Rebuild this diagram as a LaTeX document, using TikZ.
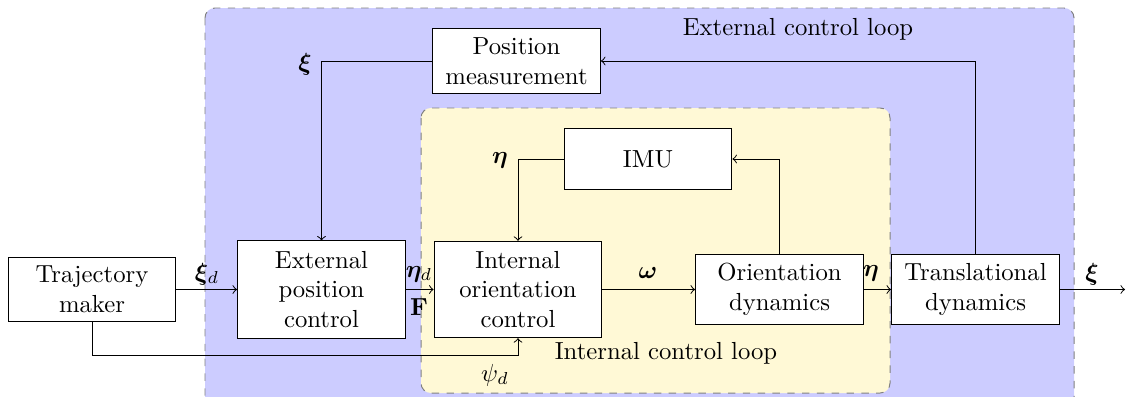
\documentclass[tikz,border=0pt]{standalone}
\usepackage{amsmath,bm}
\definecolor{outerfill}{RGB}{204,204,255}
\definecolor{innerfill}{RGB}{255,249,214}
\tikzset{
  blockbox/.style={draw, fill=white, align=center, inner sep=1pt, minimum width=68pt},
  region/.style={draw=gray, dashed, rounded corners=4pt},
  sig/.style={->},
  lbl/.style={inner sep=0pt}
}
\begin{document}
\begin{tikzpicture}[x=0.405pt,y=-0.405pt]
\useasboundingbox (0,0) rectangle (1126,396);
% regions
\draw[region, fill=outerfill] (205,8) rectangle (1074,410);
\draw[region, fill=innerfill] (421,108) rectangle (890,393);
\node[lbl] (extlbl) at (798,29) {External control loop};
\node[lbl] (intlbl) at (666,353) {Internal control loop};
% blocks
\node[blockbox, minimum height=26.3pt] (traj) at (92,289.5) {Trajectory\\maker};
\node[blockbox, minimum height=39.3pt] (ext) at (321.5,289.5) {External\\position\\control};
\node[blockbox, minimum height=39pt] (int) at (518,289.5) {Internal\\orientation\\control};
\node[blockbox, minimum height=28.7pt] (orient) at (779.5,289.5) {Orientation\\dynamics};
\node[blockbox, minimum height=28.7pt] (trans) at (975.5,289.5) {Translational\\dynamics};
\node[blockbox, minimum height=25.1pt] (imu) at (648,159) {IMU};
\node[blockbox, minimum height=26.7pt] (pos) at (516.5,61) {Position\\measurement};
\coordinate (out) at (1125,289.5);
\coordinate (psibend) at (518,355);
% forward path
\draw[sig] (traj.east) -- (ext.west);
\draw[sig] (ext.east) -- (int.west);
\draw[sig] (int.east) -- (orient.west);
\draw[sig] (orient.east) -- (trans.west);
\draw[sig] (trans.east) -- (out);
% feedback loops
\draw[sig] (trans.north) |- (pos.east);
\draw[sig] (pos.west) -| (ext.north);
\draw[sig] (orient.north) |- (imu.east);
\draw[sig] (imu.west) -| (int.north);
\draw[sig] (traj.south) |- (psibend) -- (int.south);
% signal labels
\node[lbl] (lxid) at (207,274) {$\bm{\xi}_d$};
\node[lbl] (letad) at (419,274) {$\bm{\eta}_d$};
\node[lbl] (lF) at (419,307) {$\mathbf{F}$};
\node[lbl] (lomega) at (648,273) {$\bm{\omega}$};
\node[lbl] (leta) at (871,273) {$\bm{\eta}$};
\node[lbl] (lxi) at (1092,274) {$\bm{\xi}$};
\node[lbl] (lxifb) at (305,64) {$\bm{\xi}$};
\node[lbl] (letafb) at (500,160) {$\bm{\eta}$};
\node[lbl] (lpsi) at (495,375) {$\psi_d$};
\end{tikzpicture}
\end{document}
